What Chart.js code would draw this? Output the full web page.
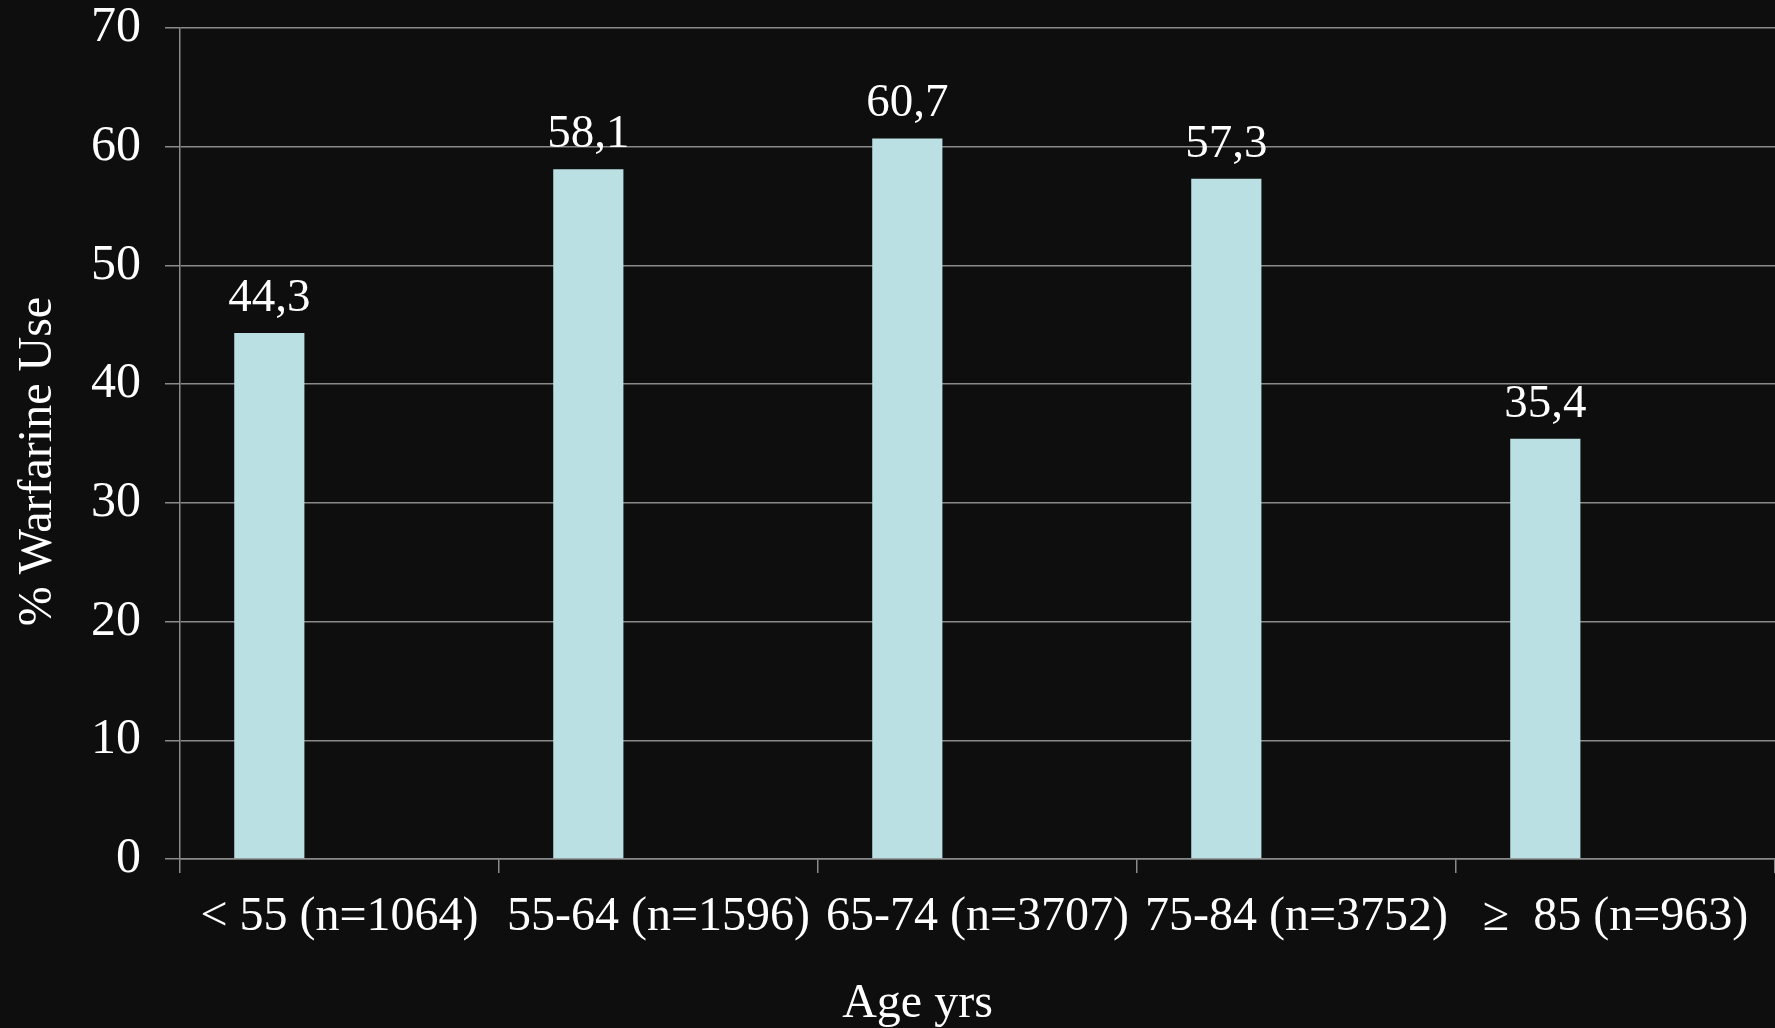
<!DOCTYPE html>
<html>
<head>
<meta charset="utf-8">
<title>Warfarin use by age group</title>
<script src="https://cdn.jsdelivr.net/npm/chart.js@4.4.1/dist/chart.umd.min.js"></script>
<style>
  html, body { margin: 0; padding: 0; background: #0e0e0e; }
  #wrap { width: 1775px; height: 1028px; position: relative; }
</style>
</head>
<body>
<div id="wrap"><canvas id="chart"></canvas></div>
<script>
// Age groups with cohort sizes
const categories = ['< 55 (n=1064)', '55-64 (n=1596)', '65-74 (n=3707)', '75-84 (n=3752)', '\u2265  85 (n=963)'];
// Share of patients on warfarin, percent
const warfarinUse = [44.3, 58.1, 60.7, 57.3, 35.4];
// Second series slot of the grouped layout (no values)
const emptySeries = [null, null, null, null, null];
// Y axis ticks
const yTicks = [0, 10, 20, 30, 40, 50, 60, 70];

const FONT = "'Liberation Serif', 'Times New Roman', serif";
const GRID = '#8a8a8a';

// Writes each bar's value (decimal comma) above it
const valueLabels = {
  id: 'valueLabels',
  afterDatasetsDraw(chart) {
    const ctx = chart.ctx;
    const meta = chart.getDatasetMeta(0);
    ctx.save();
    ctx.fillStyle = '#ffffff';
    ctx.font = '47px ' + FONT;
    ctx.textAlign = 'center';
    ctx.textBaseline = 'bottom';
    meta.data.forEach((bar, i) => {
      const v = warfarinUse[i];
      ctx.fillText(v.toFixed(1).replace('.', ','), bar.x, bar.y - 11);
    });
    ctx.restore();
  }
};

new Chart(document.getElementById('chart'), {
  type: 'bar',
  data: {
    labels: categories,
    datasets: [
      {
        label: '% Warfarine Use',
        data: warfarinUse,
        backgroundColor: '#bae0e3',
        categoryPercentage: 0.88,
        barPercentage: 0.5
      },
      {
        label: '',
        data: emptySeries,
        backgroundColor: '#bae0e3',
        categoryPercentage: 0.88,
        barPercentage: 0.5
      }
    ]
  },
  options: {
    responsive: true,
    maintainAspectRatio: false,
    animation: false,
    layout: { padding: { top: 28, right: 0, left: 0, bottom: 0 } },
    plugins: {
      legend: { display: false },
      tooltip: { enabled: false }
    },
    scales: {
      x: {
        grid: {
          display: true,
          drawOnChartArea: false,
          offset: true,
          color: GRID,
          lineWidth: 1.5,
          tickLength: 14
        },
        border: { display: true, color: GRID, width: 1.5 },
        ticks: {
          color: '#ffffff',
          font: { family: FONT, size: 48 },
          padding: 16,
          maxRotation: 0,
          autoSkip: false
        },
        title: {
          display: true,
          text: 'Age yrs          ',
          color: '#ffffff',
          font: { family: FONT, size: 48 },
          padding: { top: 26, bottom: -5 }
        },
        afterFit(scale) {
          scale.height = 169;
          scale.paddingLeft = 0;
          scale.paddingRight = 0;
        }
      },
      y: {
        min: 0,
        max: 70,
        afterBuildTicks(scale) { scale.ticks = yTicks.map(v => ({ value: v })); },
        grid: {
          color: GRID,
          lineWidth: 1.5,
          tickLength: 15
        },
        border: { display: true, color: GRID, width: 1.5 },
        ticks: {
          color: '#ffffff',
          font: { family: FONT, size: 50 },
          padding: 24
        },
        title: {
          display: true,
          text: '% Warfarine Use   ',
          color: '#ffffff',
          font: { family: FONT, size: 48 },
          padding: { top: 10, bottom: 0 }
        },
        afterFit(scale) {
          scale.width = 180;
          scale.paddingTop = 0;
          scale.paddingBottom = 0;
        }
      }
    }
  },
  plugins: [valueLabels]
});
</script>
</body>
</html>
